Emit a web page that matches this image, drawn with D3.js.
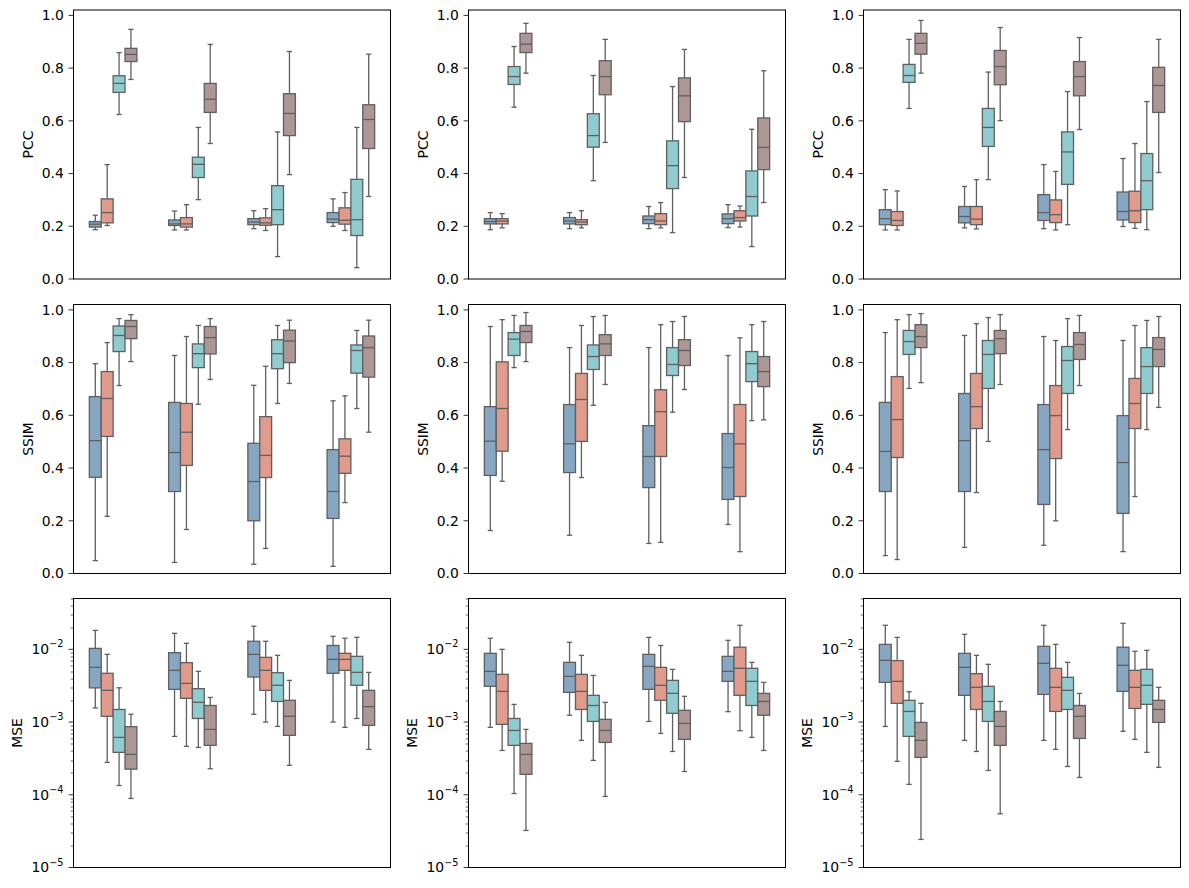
<!DOCTYPE html>
<html>
<head>
<meta charset="utf-8">
<script src="https://cdn.jsdelivr.net/npm/d3@7"></script>
<style>
  body { margin: 0; background: #fff; }
  svg { font-family: "DejaVu Sans", sans-serif; }
</style>
</head>
<body>
<script>
// four groups (no x labels in the figure) and four hue series
var groups = ["g1", "g2", "g3", "g4"];
var series = ["s1", "s2", "s3", "s4"];
var colors = ["#87a6c2", "#e19b8c", "#90cbd0", "#ad9795"];

var linTicks = [0, 0.2, 0.4, 0.6, 0.8, 1.0];
var logTicks = [1e-5, 1e-4, 1e-3, 1e-2];

// each box: [whisker low, q1, median, q3, whisker high]; rows = groups, cols = series
var pccA = [
  [[0.187,0.197,0.208,0.218,0.242],[0.203,0.213,0.252,0.304,0.434],[0.624,0.708,0.742,0.771,0.859],[0.757,0.825,0.852,0.875,0.947]],
  [[0.186,0.203,0.209,0.224,0.258],[0.186,0.197,0.209,0.233,0.282],[0.301,0.385,0.435,0.462,0.575],[0.514,0.632,0.682,0.742,0.890]],
  [[0.191,0.206,0.216,0.229,0.259],[0.184,0.204,0.213,0.232,0.267],[0.085,0.206,0.263,0.354,0.558],[0.396,0.544,0.628,0.703,0.863]],
  [[0.200,0.214,0.227,0.252,0.304],[0.184,0.208,0.223,0.270,0.328],[0.043,0.165,0.225,0.378,0.575],[0.313,0.495,0.605,0.661,0.853]]
];
var pccB = [
  [[0.187,0.209,0.218,0.229,0.252],[0.194,0.209,0.220,0.229,0.248],[0.652,0.738,0.768,0.806,0.882],[0.781,0.859,0.891,0.932,0.970]],
  [[0.191,0.209,0.220,0.233,0.252],[0.194,0.206,0.216,0.225,0.259],[0.373,0.500,0.544,0.627,0.772],[0.518,0.699,0.768,0.828,0.909]],
  [[0.191,0.210,0.225,0.239,0.275],[0.194,0.206,0.220,0.248,0.290],[0.176,0.343,0.430,0.524,0.730],[0.385,0.597,0.695,0.763,0.871]],
  [[0.195,0.210,0.229,0.247,0.282],[0.197,0.220,0.233,0.259,0.277],[0.123,0.239,0.313,0.410,0.568],[0.290,0.415,0.499,0.611,0.790]]
];
var pccC = [
  [[0.186,0.206,0.229,0.263,0.339],[0.186,0.203,0.222,0.256,0.334],[0.647,0.746,0.772,0.814,0.909],[0.781,0.853,0.894,0.932,0.981]],
  [[0.194,0.213,0.237,0.275,0.351],[0.190,0.206,0.227,0.275,0.377],[0.377,0.503,0.575,0.647,0.785],[0.601,0.737,0.806,0.867,0.954]],
  [[0.191,0.222,0.252,0.320,0.434],[0.186,0.214,0.244,0.300,0.408],[0.206,0.359,0.482,0.558,0.711],[0.567,0.695,0.768,0.825,0.916]],
  [[0.199,0.224,0.256,0.330,0.457],[0.192,0.214,0.259,0.333,0.514],[0.187,0.263,0.373,0.476,0.673],[0.404,0.632,0.734,0.803,0.909]]
];
var ssimA = [
  [[0.049,0.365,0.504,0.671,0.796],[0.217,0.520,0.664,0.766,0.876],[0.713,0.842,0.903,0.939,0.967],[0.804,0.891,0.937,0.960,0.982]],
  [[0.042,0.311,0.459,0.649,0.827],[0.167,0.410,0.536,0.645,0.899],[0.642,0.781,0.834,0.871,0.941],[0.736,0.833,0.895,0.937,0.967]],
  [[0.035,0.200,0.349,0.494,0.714],[0.095,0.364,0.448,0.595,0.786],[0.645,0.777,0.834,0.887,0.941],[0.721,0.800,0.882,0.923,0.961]],
  [[0.027,0.209,0.311,0.470,0.655],[0.269,0.380,0.445,0.511,0.674],[0.626,0.760,0.846,0.867,0.922],[0.536,0.745,0.857,0.901,0.961]]
];
var ssimB = [
  [[0.163,0.372,0.502,0.633,0.937],[0.350,0.464,0.626,0.803,0.963],[0.781,0.827,0.889,0.914,0.979],[0.804,0.876,0.918,0.941,0.990]],
  [[0.145,0.383,0.492,0.641,0.857],[0.364,0.501,0.660,0.759,0.941],[0.638,0.774,0.823,0.867,0.975],[0.717,0.827,0.871,0.906,0.979]],
  [[0.114,0.326,0.444,0.561,0.857],[0.118,0.444,0.614,0.697,0.944],[0.612,0.751,0.793,0.857,0.956],[0.698,0.789,0.846,0.887,0.975]],
  [[0.186,0.281,0.402,0.531,0.827],[0.083,0.292,0.492,0.641,0.894],[0.580,0.728,0.796,0.842,0.944],[0.583,0.709,0.766,0.823,0.956]]
];
var ssimC = [
  [[0.068,0.311,0.463,0.649,0.914],[0.053,0.440,0.584,0.747,0.963],[0.702,0.831,0.880,0.922,0.982],[0.724,0.857,0.899,0.944,0.986]],
  [[0.099,0.311,0.504,0.683,0.903],[0.307,0.550,0.633,0.759,0.948],[0.501,0.702,0.831,0.884,0.971],[0.717,0.834,0.891,0.922,0.982]],
  [[0.107,0.262,0.470,0.641,0.899],[0.200,0.436,0.599,0.713,0.884],[0.546,0.683,0.808,0.861,0.967],[0.713,0.812,0.869,0.914,0.979]],
  [[0.083,0.228,0.421,0.599,0.884],[0.292,0.550,0.645,0.740,0.941],[0.546,0.683,0.785,0.857,0.960],[0.630,0.785,0.850,0.895,0.975]]
];
var mseA = [
  [[1.56e-3,2.95e-3,5.65e-3,1.03e-2,1.82e-2],[2.79e-4,1.20e-3,2.73e-3,4.68e-3,8.53e-3],[1.34e-4,3.83e-4,6.15e-4,1.49e-3,2.96e-3],[8.9e-5,2.25e-4,3.59e-4,8.63e-4,1.28e-3]],
  [[6.35e-4,2.82e-3,5.14e-3,9.0e-3,1.66e-2],[4.63e-4,2.12e-3,3.40e-3,6.56e-3,1.21e-2],[4.48e-4,1.12e-3,1.87e-3,2.88e-3,4.98e-3],[2.28e-4,4.78e-4,7.93e-4,1.69e-3,2.18e-3]],
  [[1.28e-3,4.16e-3,8.53e-3,1.29e-2,2.08e-2],[1.0e-3,2.73e-3,5.14e-3,7.76e-3,1.29e-2],[8.71e-4,1.92e-3,3.20e-3,4.77e-3,8.27e-3],[2.54e-4,6.56e-4,1.20e-3,1.99e-3,3.74e-3]],
  [[1.0e-3,4.68e-3,7.28e-3,1.13e-2,1.51e-2],[8.45e-4,5.14e-3,7.28e-3,8.81e-3,1.42e-2],[1.12e-3,3.20e-3,4.82e-3,8.01e-3,1.46e-2],[4.21e-4,9.0e-4,1.63e-3,2.73e-3,4.82e-3]]
];
var mseB = [
  [[8.45e-4,3.10e-3,4.98e-3,8.81e-3,1.42e-2],[4.07e-4,9.29e-4,2.64e-3,4.53e-3,1.0e-2],[1.04e-4,4.78e-4,7.67e-4,1.12e-3,1.75e-3],[3.23e-5,1.91e-4,3.59e-4,5.09e-4,7.93e-4]],
  [[1.24e-3,2.56e-3,4.25e-3,6.62e-3,1.25e-2],[5.6e-4,1.49e-3,2.64e-3,4.53e-3,8.27e-3],[2.97e-4,1.02e-3,1.69e-3,2.33e-3,4.38e-3],[9.5e-5,5.25e-4,7.67e-4,1.09e-3,1.87e-3]],
  [[1.02e-3,2.82e-3,5.84e-3,8.53e-3,1.46e-2],[6.98e-4,1.99e-3,3.20e-3,5.65e-3,1.13e-2],[3.94e-4,1.32e-3,2.48e-3,3.74e-3,5.31e-3],[2.09e-4,5.77e-4,9.59e-4,1.45e-3,2.26e-3]],
  [[1.39e-3,3.63e-3,4.98e-3,8.01e-3,1.33e-2],[7.6e-4,2.33e-3,5.48e-3,1.07e-2,2.14e-2],[6.15e-4,1.69e-3,3.63e-3,5.48e-3,6.62e-3],[4.07e-4,1.24e-3,1.92e-3,2.48e-3,3.51e-3]]
];
var mseC = [
  [[8.71e-4,3.51e-3,7.06e-3,1.17e-2,2.14e-2],[2.88e-4,1.81e-3,3.63e-3,7.0e-3,1.46e-2],[1.39e-4,6.35e-4,1.40e-3,1.99e-3,2.61e-3],[2.43e-5,3.27e-4,5.6e-4,9.9e-4,1.81e-3]],
  [[5.6e-4,2.33e-3,5.65e-3,8.81e-3,1.61e-2],[3.94e-4,1.49e-3,3.0e-3,4.63e-3,8.27e-3],[2.16e-4,1.02e-3,1.92e-3,3.10e-3,6.22e-3],[5.48e-5,4.78e-4,8.71e-4,1.40e-3,1.92e-3]],
  [[5.6e-4,2.4e-3,6.42e-3,1.10e-2,2.14e-2],[4.21e-4,1.40e-3,3.0e-3,5.48e-3,1.17e-2],[2.45e-4,1.49e-3,2.73e-3,4.12e-3,6.62e-3],[1.73e-4,5.96e-4,1.20e-3,1.69e-3,2.48e-3]],
  [[7.45e-4,2.64e-3,6.03e-3,1.07e-2,2.28e-2],[5.77e-4,1.54e-3,3.0e-3,5.14e-3,9.4e-3],[3.83e-4,1.75e-3,3.20e-3,5.31e-3,9.7e-3],[2.38e-4,9.9e-4,1.49e-3,1.99e-3,3.0e-3]]
];

var rows = [
  { label: "PCC", log: false, panels: [pccA, pccB, pccC] },
  { label: "SSIM", log: false, panels: [ssimA, ssimB, ssimC] },
  { label: "MSE", log: true, panels: [mseA, mseB, mseC] }
];

var W = 1189, H = 888;
var colLeft = [73.5, 468.5, 863.5];
var rowTop = [10, 304.5, 598.5];
var pw = 317, ph = 269;
var lineCol = "#5f5f5f";
var fontSize = 13.9;

var svg = d3.select("body").append("svg")
  .attr("width", W)
  .attr("height", H);

rows.forEach(function(row, ri) {
  row.panels.forEach(function(data, ci) {
    var g = svg.append("g")
      .attr("transform", "translate(" + colLeft[ci] + "," + rowTop[ri] + ")");

    var x = d3.scaleBand().domain(groups).range([0, pw]).paddingInner(0).paddingOuter(0);
    var xs = d3.scaleBand().domain(series).range([-0.3, 0.3]); // in group units
    var unit = x.bandwidth();
    var boxW = xs.bandwidth() * unit;

    var y;
    if (row.log) {
      y = d3.scaleLog().domain([1e-5, 0.05]).range([ph, 0]);
    } else {
      y = d3.scaleLinear().domain([0, 1.0205]).range([ph, 0]);
    }

    // y axis
    if (row.log) {
      var minor = y.ticks().filter(function(t) { return logTicks.indexOf(t) < 0; });
      g.selectAll(".minor").data(minor).enter().append("line")
        .attr("x1", -2.8).attr("x2", 0)
        .attr("y1", function(d) { return Math.round(y(d)) + 0.5; })
        .attr("y2", function(d) { return Math.round(y(d)) + 0.5; })
        .attr("stroke", "#000").attr("stroke-width", 0.6);
      var maj = g.selectAll(".maj").data(logTicks).enter().append("g")
        .attr("transform", function(d) { return "translate(0," + y(d) + ")"; });
      maj.append("line").attr("x1", -4.9).attr("x2", 0).attr("stroke", "#000").attr("stroke-width", 0.8);
      var t = maj.append("text")
        .attr("x", -10).attr("dy", "0.35em")
        .attr("text-anchor", "end")
        .attr("font-size", fontSize);
      t.append("tspan").text("10");
      t.append("tspan")
        .attr("font-size", fontSize * 0.7)
        .attr("dy", "-0.7em")
        .text(function(d) { return "\u2212" + Math.round(-Math.log10(d)); });
    } else {
      var tk = g.selectAll(".tk").data(linTicks).enter().append("g")
        .attr("transform", function(d) { return "translate(0," + y(d) + ")"; });
      tk.append("line").attr("x1", -4.9).attr("x2", 0).attr("stroke", "#000").attr("stroke-width", 0.8);
      tk.append("text")
        .attr("x", -9.7).attr("dy", "0.35em")
        .attr("text-anchor", "end")
        .attr("font-size", fontSize)
        .text(function(d) { return d3.format(".1f")(d); });
    }

    // y label
    g.append("text")
      .attr("transform", "translate(" + (row.log ? -52 : -41) + "," + (ph / 2) + ") rotate(-90)")
      .attr("text-anchor", "middle")
      .attr("font-size", fontSize)
      .text(row.label);

    // boxes
    groups.forEach(function(gr, gi) {
      series.forEach(function(s, si) {
        var d = data[gi][si];
        var cx = x(gr) + unit / 2 + (xs(s) + xs.bandwidth() / 2) * unit;
        var b = g.append("g");
        // whiskers
        b.append("line").attr("x1", cx).attr("x2", cx)
          .attr("y1", y(d[0])).attr("y2", y(d[1]))
          .attr("stroke", lineCol).attr("stroke-width", 1.3);
        b.append("line").attr("x1", cx).attr("x2", cx)
          .attr("y1", y(d[3])).attr("y2", y(d[4]))
          .attr("stroke", lineCol).attr("stroke-width", 1.3);
        // caps
        [d[0], d[4]].forEach(function(v) {
          b.append("line")
            .attr("x1", cx - boxW * 0.22).attr("x2", cx + boxW * 0.22)
            .attr("y1", y(v)).attr("y2", y(v))
            .attr("stroke", lineCol).attr("stroke-width", 1.3);
        });
        // box
        b.append("rect")
          .attr("x", cx - boxW / 2).attr("width", boxW)
          .attr("y", y(d[3])).attr("height", y(d[1]) - y(d[3]))
          .attr("fill", colors[si])
          .attr("stroke", lineCol).attr("stroke-width", 1.3);
        // median
        b.append("line")
          .attr("x1", cx - boxW / 2).attr("x2", cx + boxW / 2)
          .attr("y1", y(d[2])).attr("y2", y(d[2]))
          .attr("stroke", lineCol).attr("stroke-width", 1.3);
      });
    });

    // frame
    g.append("rect")
      .attr("width", pw).attr("height", ph)
      .attr("fill", "none").attr("stroke", "#000").attr("stroke-width", 1);
  });
});
</script>
</body>
</html>
